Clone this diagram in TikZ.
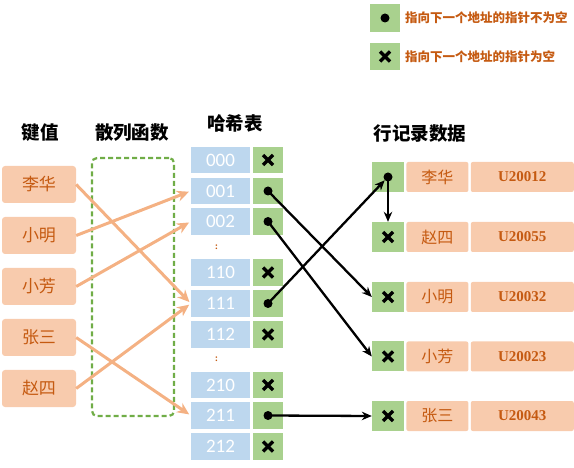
\documentclass[tikz,border=0pt]{standalone}
\usepackage{fontspec}
\setmainfont{Liberation Serif}
\newfontfamily\cjk{Noto Sans CJK SC}
\newfontfamily\numfont{Carlito}
\usetikzlibrary{arrows.meta, positioning}
\definecolor{keyfill}{HTML}{F8CBAD}
\definecolor{keytext}{HTML}{C55A11}
\definecolor{hashfill}{HTML}{BDD7EE}
\definecolor{ptrfill}{HTML}{A9D18E}
\definecolor{funcline}{HTML}{70AD47}
\definecolor{maparrow}{HTML}{F4B183}

\tikzset{
  title/.style={font=\cjk\bfseries\fontsize{18.5}{18.5}\selectfont},
  keybox/.style={fill=keyfill, rounded corners=3pt, minimum width=74pt, minimum height=37pt,
    inner sep=0pt, text=keytext, font=\cjk\fontsize{17}{17}\selectfont},
  hashcell/.style={fill=hashfill, minimum width=59pt, minimum height=26.5pt, inner sep=0pt,
    text=white, font=\numfont\fontsize{19}{19}\selectfont},
  ptrcell/.style={fill=ptrfill, minimum width=30pt, minimum height=26.5pt, inner sep=0pt},
  nullcell/.style={ptrcell, path picture={
      \draw[line width=3.3pt] ([shift={(-5,-5)}]path picture bounding box.center)
        -- ([shift={(5,5)}]path picture bounding box.center);
      \draw[line width=3.3pt] ([shift={(-5,5)}]path picture bounding box.center)
        -- ([shift={(5,-5)}]path picture bounding box.center);}},
  dotmark/.style={circle, fill=black, minimum size=9pt, inner sep=0pt},
  recname/.style={fill=keyfill, rounded corners=2pt, minimum width=62pt, minimum height=30pt,
    inner sep=0pt, text=keytext, font=\cjk\fontsize{16}{16}\selectfont},
  recid/.style={fill=keyfill, rounded corners=2pt, minimum width=103pt, minimum height=30pt,
    inner sep=0pt, text=keytext, font=\bfseries\fontsize{15}{15}\selectfont},
  legendtext/.style={anchor=west, inner sep=0pt, text=keytext, font=\cjk\bfseries\fontsize{12.5}{12.5}\selectfont},
  gapmark/.style={text=keytext, font=\bfseries\fontsize{10}{10}\selectfont},
  maparrowline/.style={maparrow, line width=3pt, shorten >=2pt, -{Stealth[length=12pt, width=11pt]}},
  ptrarrow/.style={line width=2.3pt, -{Stealth[length=10pt, width=8.5pt]}}
}

\begin{document}
\begin{tikzpicture}[x=1pt, y=-1pt]
  \useasboundingbox (0,0) rectangle (574,468);

  % legend
  \node[ptrcell, minimum height=28pt] (legdot) at (385,18) {};
  \node[dotmark] at (legdot) {};
  \node[legendtext] (legdottext) at (405,18) {指向下一个地址的指针不为空};
  \node[nullcell, minimum height=27pt] (legnull) at (385,56.5) {};
  \node[legendtext] (legnulltext) at (405,56.5) {指向下一个地址的指针为空};

  % titles
  \node[title] (tkey) at (40,133) {键值};
  \node[title] (tfunc) at (132,133) {散列函数};
  \node[title] (thash) at (235,123) {哈希表};
  \node[title] (trec) at (420,134) {行记录数据};

  % keys
  \foreach \name/\txt/\yy in {k1/李华/184.5, k2/小明/235.5, k3/小芳/286.5, k4/张三/337.5, k5/赵四/388.5}{
    \node[keybox] (\name) at (39,\yy) {\txt};
  }

  % hash function
  \node[draw=funcline, dashed, dash pattern=on 5pt off 3pt, line width=2.2pt, rounded corners=5pt,
    minimum width=82pt, minimum height=258pt] (func) at (133,287) {};

  % hash table
  \foreach \lab/\yy in {000/160, 001/191, 002/221.5, 110/272.5, 111/303.5, 112/334.5, 210/385, 211/415.5, 212/446.5}{
    \node[hashcell] (h\lab) at (220.5,\yy) {\lab};
  }
  \foreach \lab in {000, 110, 112, 210, 212}{
    \node[nullcell] (p\lab) at ([xshift=47.5pt]h\lab.center) {};
  }
  \foreach \lab in {001, 002, 111, 211}{
    \node[ptrcell] (p\lab) at ([xshift=47.5pt]h\lab.center) {};
    \node[dotmark] (d\lab) at (p\lab) {};
  }
  \node[gapmark] (gap1) at (216.5,247) {:};
  \node[gapmark] (gap2) at (216.5,359) {:};

  % records
  \foreach \name/\txt/\uid/\yy in {r1/李华/U20012/177, r2/赵四/U20055/237, r3/小明/U20032/297, r4/小芳/U20023/356.5, r5/张三/U20043/416}{
    \node[ptrcell, minimum width=32pt, minimum height=30pt] (\name) at (388,\yy) {};
    \node[recname, right=2pt of \name] (\name n) {\txt};
    \node[recid, right=2pt of \name n] (\name u) {\uid};
  }
  \node[dotmark] (dr1) at (r1) {};
  \foreach \name in {r2, r3, r4, r5}{
    \node[nullcell, minimum width=32pt, minimum height=30pt] at (\name) {};
  }

  % hash mapping
  \draw[maparrowline] (k1.east) -- (h111.west);
  \draw[maparrowline] (k2.east) -- (h001.west);
  \draw[maparrowline] (k3.east) -- (h002.west);
  \draw[maparrowline] (k4.east) -- (h211.west);
  \draw[maparrowline] (k5.east) -- (h111.west);

  % pointers
  \draw[ptrarrow] (d001.center) -- (r3.west);
  \draw[ptrarrow] (d002.center) -- (r4.west);
  \draw[ptrarrow] (d111.center) -- (dr1.south west);
  \draw[ptrarrow] (d211.center) -- (r5.west);
  \draw[ptrarrow] (dr1.center) -- (r2.north);
\end{tikzpicture}
\end{document}
